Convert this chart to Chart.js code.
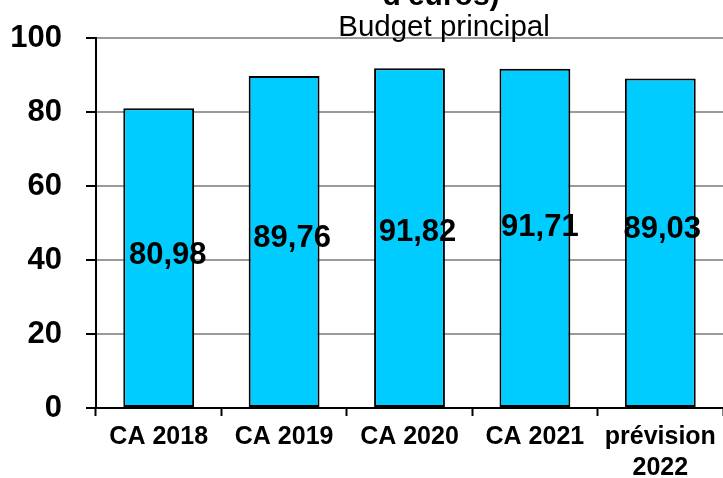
<!DOCTYPE html>
<html>
<head>
<meta charset="utf-8">
<script src="https://cdn.jsdelivr.net/npm/chart.js@4"></script>
<style>
html,body{margin:0;padding:0;background:#fff;overflow:hidden;}
#wrap{width:723px;height:478px;}
</style>
</head>
<body>
<div id="wrap"><canvas id="c" width="723" height="478"></canvas></div>
<script>
const categories = [["CA 2018"], ["CA 2019"], ["CA 2020"], ["CA 2021"], ["prévision", "2022"]];
const values = [80.98, 89.76, 91.82, 91.71, 89.03];
const valueLabels = ["80,98", "89,76", "91,82", "91,71", "89,03"];
const yTicks = [0, 20, 40, 60, 80, 100];
const titleLines = ["d'euros)", "Budget principal"];

const FONT = "'Liberation Sans', Arial, sans-serif";

const labelOffsets = [[9, -5], [8, -6], [8, -8], [5, -13], [2, -16]];

const labelPlugin = {
  id: 'valueLabels',
  afterDatasetsDraw(chart) {
    const ctx = chart.ctx;
    const meta = chart.getDatasetMeta(0);
    const ys = chart.scales.y;
    ctx.save();
    ctx.font = "bold 31px " + FONT;
    ctx.fillStyle = '#000';
    ctx.textAlign = 'center';
    ctx.textBaseline = 'alphabetic';
    meta.data.forEach((bar, i) => {
      const off = labelOffsets[i];
      const x = bar.x + off[0];
      const y = ys.getPixelForValue(values[i] / 2) + off[1] + 0.358 * 31;
      ctx.fillText(valueLabels[i], x, y);
    });
    ctx.restore();
  }
};

const titlePlugin = {
  id: 'topTitle',
  afterDraw(chart) {
    const ctx = chart.ctx;
    ctx.save();
    ctx.fillStyle = '#000';
    ctx.textAlign = 'center';
    ctx.textBaseline = 'alphabetic';
    ctx.font = "bold 30px " + FONT;
    ctx.fillText(titleLines[0], 441, 5);
    ctx.font = "29.5px " + FONT;
    ctx.fillText(titleLines[1], 444, 36);
    ctx.restore();
  }
};

new Chart(document.getElementById('c'), {
  type: 'bar',
  data: {
    labels: categories,
    datasets: [{
      data: values,
      backgroundColor: '#00CCFF',
      borderColor: '#000000',
      borderWidth: 2,
      borderSkipped: false,
      categoryPercentage: 1,
      barPercentage: 0.565
    }]
  },
  options: {
    responsive: false,
    animation: false,
    devicePixelRatio: 1,
    layout: { padding: { top: 38, right: 0, left: 0, bottom: 0 } },
    plugins: { legend: { display: false }, title: { display: false }, tooltip: { enabled: false } },
    scales: {
      x: {
        grid: { offset: true, drawOnChartArea: false, drawTicks: true, tickLength: 8, tickColor: '#000', tickWidth: 2 },
        border: { display: true, color: '#000', width: 2 },
        ticks: { color: '#000', font: { family: FONT, size: 25, weight: 'bold', lineHeight: 1.24 }, padding: 6, maxRotation: 0, autoSkip: false },
        afterFit(s) { s.height = 70; s.paddingLeft = 0; s.paddingRight = 0; }
      },
      y: {
        min: 0, max: 100,
        afterBuildTicks(s) { s.ticks = yTicks.map(v => ({ value: v })); },
        grid: { color: '#9a9a9a', lineWidth: 2, drawTicks: true, tickLength: 10, tickColor: '#000', tickWidth: 2 },
        border: { display: true, color: '#000', width: 2 },
        ticks: { color: '#000', font: { family: FONT, size: 31, weight: 'bold' }, padding: 24 },
        afterFit(s) { s.width = 96; s.paddingTop = 0; s.paddingBottom = 0; }
      }
    }
  },
  plugins: [labelPlugin, titlePlugin]
});
</script>
</body>
</html>
